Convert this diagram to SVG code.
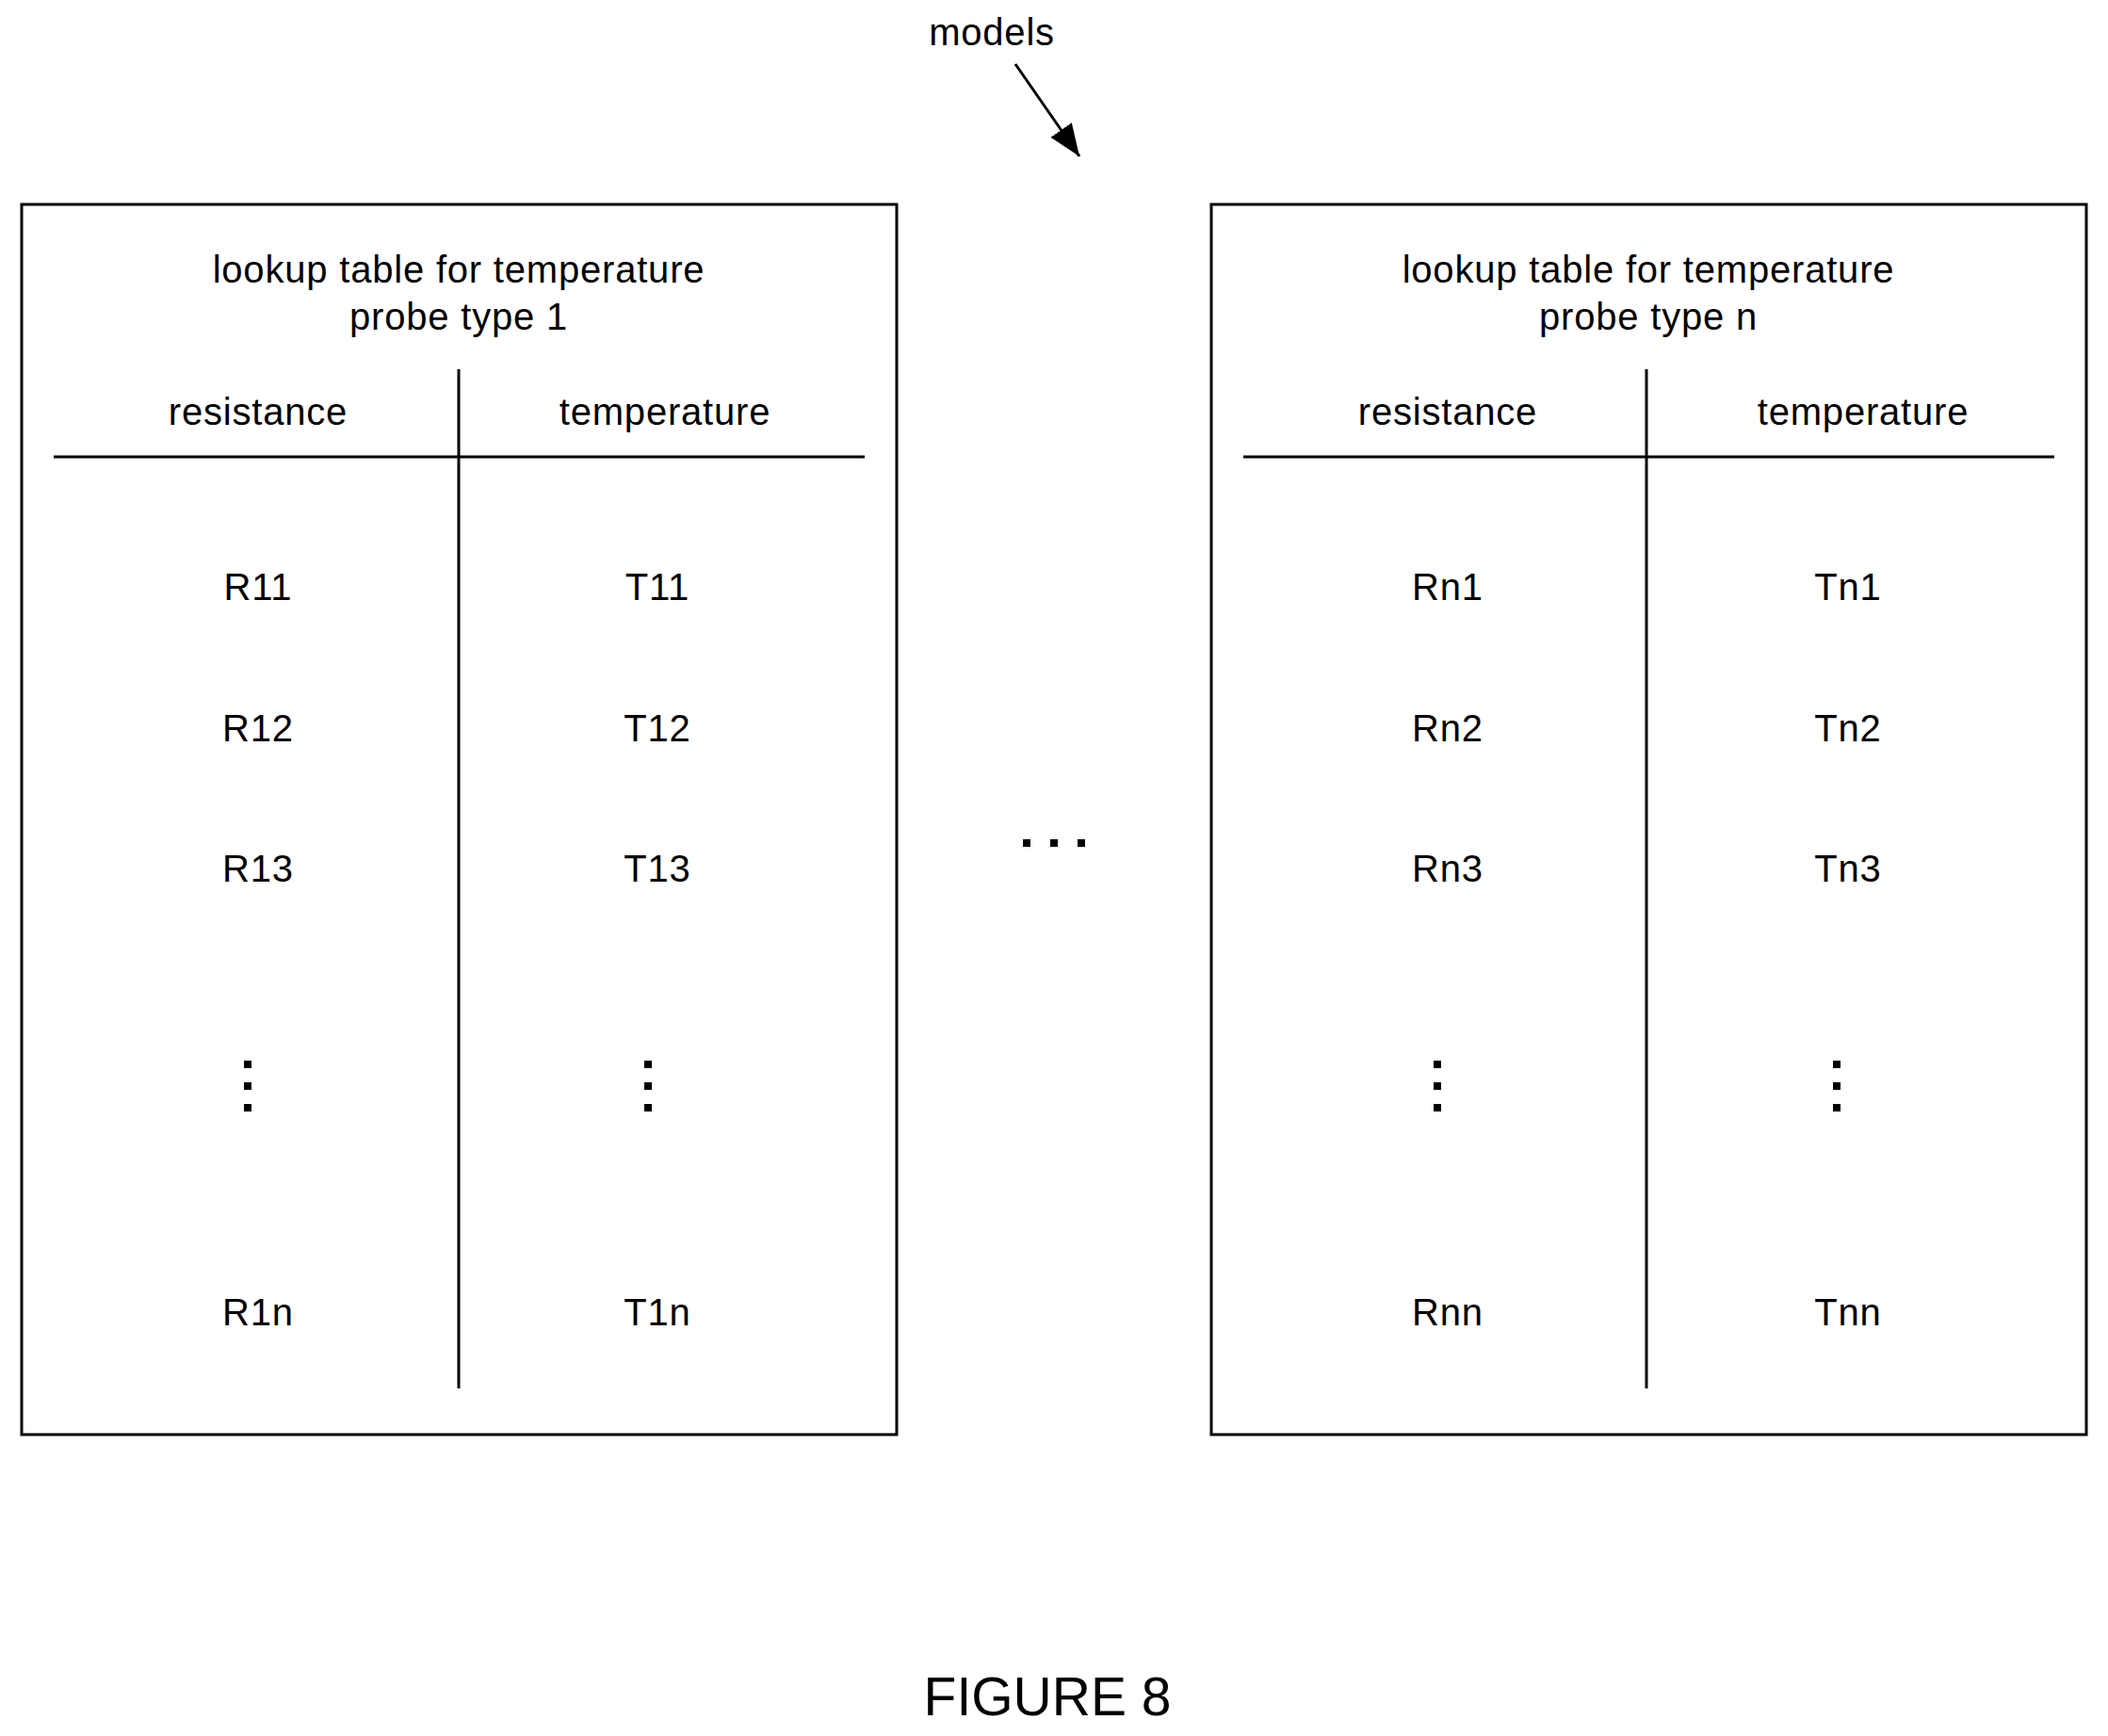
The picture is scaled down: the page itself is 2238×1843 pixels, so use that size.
<svg xmlns="http://www.w3.org/2000/svg" width="2238" height="1843" viewBox="0 0 2238 1843">
<style>
text{font-family:"Liberation Sans",Arial,sans-serif;font-size:40px;letter-spacing:0.8px;fill:#000;text-anchor:middle}
.box{fill:#fff;stroke:#000;stroke-width:3}
.ln{stroke:#000;stroke-width:3;fill:none}
</style>
<defs>
<marker id="a" viewBox="0 0 10 10" refX="10" refY="5" markerWidth="34" markerHeight="34" markerUnits="userSpaceOnUse" orient="auto"><path d="M0,1 L10,5 L0,9 z"/></marker>
<g id="vd"><rect x="-4" y="-4" width="8" height="8"/><rect x="-4" y="19" width="8" height="8"/><rect x="-4" y="42" width="8" height="8"/></g>
</defs>
<rect width="2238" height="1843" fill="#fff"/>
<g id="table1">
<rect class="box" x="23" y="217" width="929" height="1306"/>
<text x="487" y="300">lookup table for temperature</text>
<text x="487" y="350">probe type 1</text>
<text x="274" y="451">resistance</text>
<text x="706" y="451">temperature</text>
<line class="ln" x1="57" y1="485" x2="918" y2="485"/>
<line class="ln" x1="487" y1="392" x2="487" y2="1474"/>
<text x="274" y="637">R11</text><text x="698" y="637">T11</text>
<text x="274" y="787">R12</text><text x="698" y="787">T12</text>
<text x="274" y="936">R13</text><text x="698" y="936">T13</text>
<use href="#vd" x="263" y="1130"/><use href="#vd" x="688" y="1130"/>
<text x="274" y="1407">R1n</text><text x="698" y="1407">T1n</text>
</g>
<g id="table2">
<rect class="box" x="1286" y="217" width="929" height="1306"/>
<text x="1750" y="300">lookup table for temperature</text>
<text x="1750" y="350">probe type n</text>
<text x="1537" y="451">resistance</text>
<text x="1978" y="451">temperature</text>
<line class="ln" x1="1320" y1="485" x2="2181" y2="485"/>
<line class="ln" x1="1748" y1="392" x2="1748" y2="1474"/>
<text x="1537" y="637">Rn1</text><text x="1962" y="637">Tn1</text>
<text x="1537" y="787">Rn2</text><text x="1962" y="787">Tn2</text>
<text x="1537" y="936">Rn3</text><text x="1962" y="936">Tn3</text>
<use href="#vd" x="1526" y="1130"/><use href="#vd" x="1950" y="1130"/>
<text x="1537" y="1407">Rnn</text><text x="1962" y="1407">Tnn</text>
</g>
<g id="ellipsis"><rect x="1086" y="891" width="8" height="8"/><rect x="1115" y="891" width="8" height="8"/><rect x="1144" y="891" width="8" height="8"/></g>
<g id="models-label"><text x="1053" y="48">models</text></g>
<g id="connectors"><line class="ln" x1="1078" y1="68" x2="1146" y2="166" marker-end="url(#a)"/></g>
<text x="1112" y="1821" style="font-size:57px;letter-spacing:0">FIGURE 8</text>
</svg>
